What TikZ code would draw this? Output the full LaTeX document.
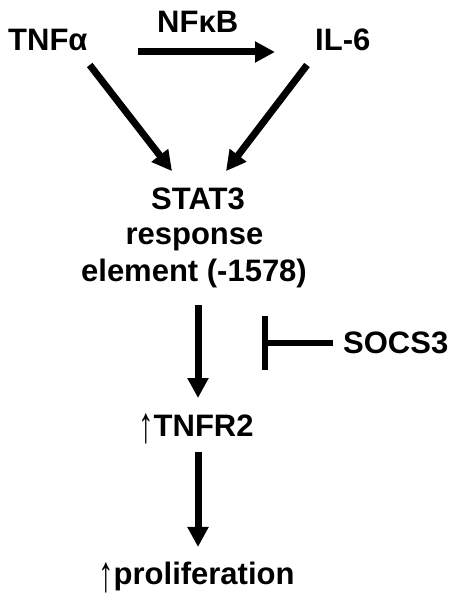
\documentclass[tikz,border=0pt]{standalone}
\usepackage{fontspec}
\setmainfont{Liberation Sans}
\usetikzlibrary{arrows.meta,calc}
\newcommand{\uparr}{{\mdseries\raisebox{-6pt}{\scalebox{1}[1.65]{↑}}}}
\begin{document}
\begin{tikzpicture}[x=1pt,y=1pt,
  lbl/.style={inner sep=0pt, font=\fontsize{31}{36}\selectfont\bfseries},
  arr/.style={line width=7pt, -{Triangle[length=20pt,width=20pt]}},
  inh/.style={line width=5.5pt, -{Bar[width=54pt]}}]
\useasboundingbox (0,0) rectangle (454,600);
\fill[white] (0,0) rectangle (454,600);
\node[lbl, anchor=base west] (tnf) at (8,549) {TNFα};
\node[lbl, anchor=base west] (nfkb) at (157,567) {NFκB};
\node[lbl, anchor=base west] (il6) at (315,549) {IL-6};
\node[lbl, anchor=base] (stat3) at (198,390) {STAT3};
\node[lbl, anchor=base] (resp) at (194.5,355) {response};
\node[lbl, anchor=base] (elem) at (194,318) {element (-1578)};
\node[lbl, anchor=base west] (socs) at (343,246) {SOCS3};
\node[lbl, anchor=base west] (tnfr) at (138,163) {\uparr TNFR2};
\node[lbl, anchor=base west] (prol) at (98,15) {\uparr proliferation};
\draw[arr] ([shift={(50,-1)}]tnf.base east) -- ([shift={(-40,-1)}]il6.base west);
\draw[arr] ([shift={(2,-14)}]tnf.base east) -- ([shift={(-26,17)}]stat3.north);
\draw[arr] ([shift={(-8,-14)}]il6.base west) -- ([shift={(28,17)}]stat3.north);
\draw[arr] ([shift={(4,-23)}]elem.base) -- ($(stat3.base |- tnfr.north)+(0,16)$);
\draw[arr] ($(stat3.base |- tnfr.base)+(0,-15)$) -- ($(stat3.base |- prol.base)+(0,38)$);
\draw[inh] ([shift={(-10,11)}]socs.base west) -- ([shift={(-81,11)}]socs.base west);
\end{tikzpicture}
\end{document}
